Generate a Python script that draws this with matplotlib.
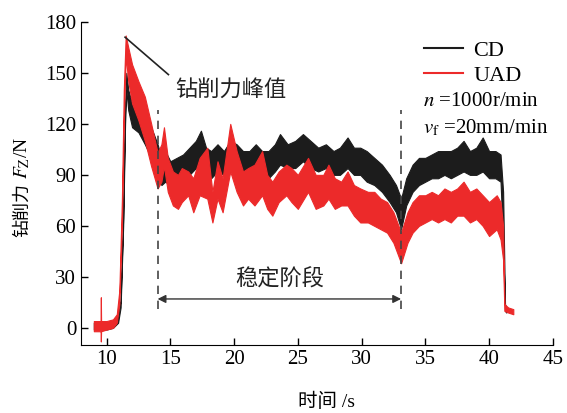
import numpy as np
import matplotlib
matplotlib.use("Agg")
import matplotlib.pyplot as plt
from matplotlib.lines import Line2D

plt.rcParams['font.family'] = ['Liberation Serif', 'Noto Sans CJK SC']
plt.rcParams['mathtext.fontset'] = 'stix'

# --- CD (black) band: time, lower and upper edge of the noisy signal ---
cd_t = [9.0, 9.5, 10.0, 10.5, 10.9, 11.1, 11.3, 11.45, 11.55, 11.7, 12.0, 12.5, 13.0, 13.5,
        14.0, 14.3, 14.6, 15.0, 15.5, 16.0, 16.5, 17.0, 17.4, 17.8, 18.2, 18.7, 19.2, 19.7,
        20.2, 20.7, 21.2, 21.7, 22.2, 22.7, 23.2, 23.6, 24.2, 24.8, 25.4, 26.0, 26.6, 27.2,
        27.8, 28.3, 28.9, 29.4, 29.9, 30.4, 31.0, 31.6, 32.2, 32.7, 33.1, 33.5, 34.0, 34.5,
        35.0, 35.5, 36.0, 36.5, 37.0, 37.5, 38.0, 38.5, 39.0, 39.5, 40.0, 40.5, 40.9, 41.1,
        41.25, 41.35]
cd_lo = [-1, -1, -1, 0, 3, 12, 60, 120, 140, 128, 118, 115, 108, 100,
         92, 84, 86, 84, 86, 88, 90, 94, 98, 92, 88, 92, 90, 92,
         94, 92, 90, 92, 90, 88, 92, 96, 94, 94, 98, 94, 92, 94,
         90, 90, 94, 90, 90, 86, 84, 80, 74, 68, 58, 72, 80, 84,
         86, 88, 88, 90, 88, 90, 92, 90, 90, 92, 88, 88, 86, 50,
         10, 9]
cd_hi = [3, 3, 3, 4, 8, 16, 65, 130, 150, 140, 132, 130, 125, 118,
         108, 100, 104, 98, 100, 102, 106, 110, 116, 106, 104, 108, 104, 110,
         108, 104, 104, 108, 104, 104, 108, 114, 108, 110, 114, 110, 106, 108,
         104, 106, 112, 106, 106, 104, 100, 96, 90, 84, 76, 88, 96, 100,
         100, 102, 104, 104, 104, 106, 110, 104, 106, 112, 104, 104, 102, 80,
         14, 12]

# --- UAD (red) band ---
uad_t = [9.0, 9.5, 9.53, 9.55, 9.57, 10.0, 10.5, 10.8, 11.0, 11.2, 11.35, 11.5, 11.7, 12.0,
         12.5, 13.0, 13.5, 14.0, 14.3, 14.5, 14.8, 15.2, 15.6, 15.9, 16.4, 16.8, 17.3, 17.9,
         18.3, 18.7, 19.1, 19.7, 20.2, 20.7, 21.1, 21.6, 22.2, 22.6, 23.0, 23.5, 24.1, 24.5,
         25.0, 25.8, 26.4, 27.0, 27.4, 27.9, 28.4, 28.9, 29.4, 29.9, 30.5, 31.0, 31.5, 32.0,
         32.5, 33.1, 33.6, 34.0, 34.5, 35.0, 35.5, 36.0, 36.5, 37.0, 37.5, 38.0, 38.5, 39.0,
         39.5, 40.0, 40.6, 40.9, 41.1, 41.2, 41.5, 41.9]
uad_lo = [-2, -2, -2, -8, -2, -1, 0, 3, 14, 60, 120, 160, 145, 132,
          122, 110, 95, 82, 86, 95, 80, 72, 70, 74, 78, 68, 78, 76,
          62, 76, 68, 92, 80, 72, 76, 72, 78, 70, 66, 74, 78, 74,
          70, 80, 70, 72, 76, 70, 72, 72, 66, 62, 62, 60, 58, 56,
          50, 38, 50, 56, 60, 62, 64, 62, 64, 62, 66, 66, 62, 64,
          60, 54, 58, 52, 40, 10, 9, 8]
uad_hi = [4, 4, 4, 18, 4, 4, 5, 8, 22, 75, 140, 172, 165, 155,
          145, 136, 120, 103, 108, 118, 100, 92, 90, 94, 92, 88, 100, 106,
          80, 98, 88, 120, 104, 92, 94, 96, 104, 90, 86, 92, 96, 94,
          90, 100, 90, 90, 96, 88, 86, 92, 84, 82, 80, 80, 76, 74,
          68, 56, 68, 74, 78, 78, 80, 78, 82, 80, 82, 86, 80, 82,
          78, 74, 78, 74, 60, 14, 12, 11]

xticks = [10, 15, 20, 25, 30, 35, 40, 45]
yticks = [0, 30, 60, 90, 120, 150, 180]
stable_start, stable_end = 14.0, 33.1

fig = plt.figure(figsize=(5.67, 4.13), dpi=100)
ax = fig.add_axes([0.143, 0.165, 0.832, 0.782])

ax.fill_between(cd_t, cd_lo, cd_hi, color='#1c1c1c', lw=0.8, edgecolor='#1c1c1c')
ax.fill_between(uad_t, uad_lo, uad_hi, color='#ec2a2a', lw=0.8, edgecolor='#ec2a2a')

# stable stage markers
for xs in (stable_start, stable_end):
    ax.plot([xs, xs], [11, 128], ls=(0, (5, 4)), color='#444444', lw=1.2)
ax.annotate('', xy=(stable_start, 17), xytext=(stable_end, 17),
            arrowprops=dict(arrowstyle='<|-|>', color='#333333', lw=1.0,
                            mutation_scale=12, shrinkA=0, shrinkB=0))
ax.text((stable_start + stable_end) / 2, 28, '稳定阶段', fontsize=16,
        ha='center', va='center', color='#222222')

# peak annotation
ax.plot([11.45, 14.85], [171, 149], color='#222222', lw=1.2)
ax.text(15.4, 140, '钻削力峰值', fontsize=16, ha='left', va='center', color='#222222')

handles = [Line2D([], [], color='#1c1c1c', lw=1.5),
           Line2D([], [], color='#ec2a2a', lw=1.5)]
ax.legend(handles, ['CD', 'UAD'], loc='upper left', bbox_to_anchor=(0.685, 1.005),
          frameon=False, fontsize=16, handlelength=1.75, handletextpad=0.45,
          labelspacing=0.2)
ax.text(0.725, 0.755, r'$n$ =1000r/min', transform=ax.transAxes, fontsize=15,
        ha='left', va='center')
ax.text(0.725, 0.672, r'$v_{\mathrm{f}}$ =20mm/min', transform=ax.transAxes, fontsize=15,
        ha='left', va='center')

ax.set_xlim(8, 45)
ax.set_ylim(-10, 180)
ax.set_xticks(xticks)
ax.set_yticks(yticks)
ax.tick_params(direction='in', labelsize=15, length=5, width=1)
ax.spines['top'].set_visible(False)
ax.spines['right'].set_visible(False)

# axis titles (split so the CJK part and the math part both render)
fig.text(0.575, 0.028, '时间 /s', fontsize=14, ha='center', va='center')
fig.text(0.039, 0.426, '钻削力', fontsize=13, rotation=90, ha='center', va='bottom')
fig.text(0.039, 0.566, r'$F_{\mathrm{Z}}$/N', fontsize=14, rotation=90, ha='center', va='bottom')

fig.savefig('out.png', dpi=100)
